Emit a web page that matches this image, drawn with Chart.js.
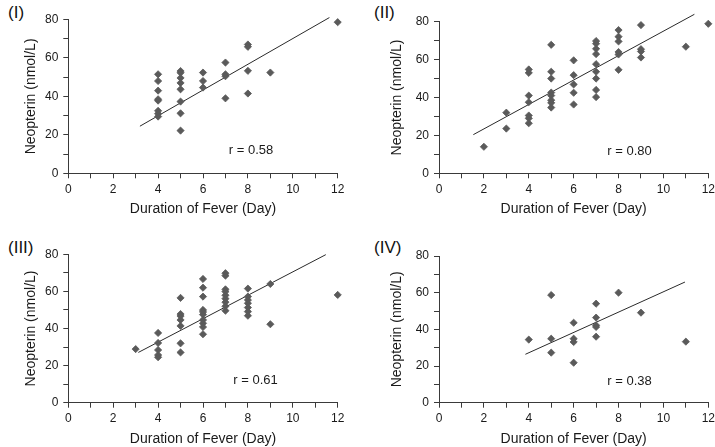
<!DOCTYPE html>
<html><head><meta charset="utf-8">
<script src="https://cdn.jsdelivr.net/npm/chart.js@4"></script>
<style>
html,body{margin:0;padding:0;background:#fff;}
body{width:715px;height:447px;position:relative;overflow:hidden;font-family:"Liberation Sans",Arial,Helvetica,sans-serif;}
canvas{position:absolute;}
.lbl{position:absolute;font-size:17px;color:#111;line-height:17px;white-space:nowrap;}
</style></head><body>
<div id="labels"></div>
<canvas id="c1" width="360" height="224" style="left:0;top:0"></canvas>
<canvas id="c2" width="355" height="224" style="left:360px;top:0"></canvas>
<canvas id="c3" width="360" height="223" style="left:0;top:224px"></canvas>
<canvas id="c4" width="355" height="223" style="left:360px;top:224px"></canvas>
<script>
// ---------- data ----------
const panelLabels = ['(I)', '(II)', '(III)', '(IV)'];
const xTitle = 'Duration of Fever (Day)';
const yTitle = 'Neopterin (nmol/L)';
const rTexts = ['r = 0.58', 'r = 0.80', 'r = 0.61', 'r = 0.38'];
const xTicks = [0, 2, 4, 6, 8, 10, 12];
const yTicks = [0, 20, 40, 60, 80];

const daysI = [4,4,4,4,4,4,4,4, 5,5,5,5,5,5,5,5, 6,6,6, 7,7,7,7, 8,8,8,8, 9, 12];
const neopterinI = [51.5,48,43,38.5,37.8,32.5,31,29.5, 53.2,52.3,49.6,47,43.7,37.3,31.2,22.2, 52.4,48,44.6, 57.6,51.5,50.5,39, 67,65.8,53.3,41.5, 52.4, 78.6];
const fitXI = [3.19, 11.63];
const fitYI = [24.5, 81.0];

const daysII = [2, 3,3, 4,4,4,4,4,4,4, 5,5,5,5,5,5,5,5, 6,6,6,6,6, 7,7,7,7,7,7,7,7,7, 8,8,8,8,8,8, 9,9,9,9, 11, 12];
const neopterinII = [14, 32,23.6, 54.8,53,41,37.5,30.5,29,26.4, 67.8,53.6,50,42.6,41,38.6,37.2,34.7, 59.6,51.8,46.9,42.5,36.3, 69.8,68.4,65.7,62.9,57.6,53.6,50,44,40.2, 75.6,72.1,69.6,64,62.7,54.6, 78.2,65.5,64.3,61.1, 66.8, 78.9];
const fitXII = [1.53, 11.38];
const fitYII = [20.4, 83.9];

const daysIII = [3, 4,4,4,4,4, 5,5,5,5,5,5,5, 6,6,6,6,6,6,6,6,6,6, 7,7,7,7,7,7,7,7,7, 8,8,8,8,8,8,8, 9,9, 12];
const neopterinIII = [28.9, 37.6,32.2,28.4,25.7,24.5, 56.5,47.8,46.7,44.6,41.4,32,27.1, 66.7,62,57.2,50,48.9,47.5,44.6,42.8,40.8,36.9, 69.8,68.5,61.1,59.9,57.9,56.1,54.2,52,49.6, 61.5,57.2,55.4,53.6,51.3,49.1,46.9, 64,42.3, 58.1];
const fitXIII = [3.12, 11.47];
const fitYIII = [27.1, 79.8];

const daysIV = [4, 5,5,5, 6,6,6,6, 7,7,7,7,7, 8, 9, 11];
const neopterinIV = [34.4, 58.7,34.9,27.3, 43.6,34.9,33.1,21.8, 54,46.4,42.2,41.3,36, 60, 49.1, 33.3];
const fitXIV = [3.85, 10.96];
const fitYIV = [26.4, 65.8];

// ---------- layout (page pixels) ----------
const FONT = '"Liberation Sans", Arial, Helvetica, sans-serif';
const panels = [
  {id:'c1', box:{x:0,y:0,w:360,h:224}, area:{l:68.3,t:19.5,r:337.7,b:173.3}, yTitleX:31, xTitleY:209, label:{x:8,y:4}, rPos:{x:7.15,y:11.7},
   days:daysI, neo:neopterinI, fx:fitXI, fy:fitYI},
  {id:'c2', box:{x:360,y:0,w:355,h:224}, area:{l:439,t:21.7,r:708.3,b:173.3}, yTitleX:397, xTitleY:209, label:{x:374,y:4}, rPos:{x:7.5,y:11.4},
   days:daysII, neo:neopterinII, fx:fitXII, fy:fitYII},
  {id:'c3', box:{x:0,y:224,w:360,h:223}, area:{l:68.3,t:254.3,r:337.7,b:402.7}, yTitleX:31, xTitleY:439, label:{x:8,y:239}, rPos:{x:7.35,y:11.9},
   days:daysIII, neo:neopterinIII, fx:fitXIII, fy:fitYIII},
  {id:'c4', box:{x:360,y:224,w:355,h:223}, area:{l:439,t:256,r:708.3,b:402.7}, yTitleX:397, xTitleY:439, label:{x:374,y:239}, rPos:{x:7.5,y:11.8},
   days:daysIV, neo:neopterinIV, fx:fitXIV, fy:fitYIV}
];

const rLabelPlugin = {
  id: 'rLabel',
  afterDatasetsDraw(chart, args, opts) {
    const {ctx, scales} = chart;
    ctx.save();
    ctx.font = '13px ' + FONT;
    ctx.fillStyle = '#1a1a1a';
    ctx.textAlign = 'left';
    ctx.textBaseline = 'middle';
    ctx.fillText(opts.text, scales.x.getPixelForValue(opts.x), scales.y.getPixelForValue(opts.y));
    ctx.restore();
  }
};

const TITLE_FONT = {family: FONT, size: 14, lineHeight: 1};
const TICK_FONT = {family: FONT, size: 12};
const AXIS_COLOR = '#3a3a3a';
const TEXT_COLOR = '#1a1a1a';

panels.forEach((p, i) => {
  const lab = document.createElement('div');
  lab.className = 'lbl';
  lab.style.left = p.label.x + 'px';
  lab.style.top = p.label.y + 'px';
  lab.textContent = panelLabels[i];
  document.getElementById('labels').appendChild(lab);

  const yW = p.area.l - p.box.x;
  const xH = (p.box.y + p.box.h) - p.area.b;
  const padTop = p.area.t - p.box.y;
  const padRight = (p.box.x + p.box.w) - p.area.r;
  const yTitleOffset = p.yTitleX - p.box.x - TITLE_FONT.size / 2;
  const xTitleOffset = (p.box.y + p.box.h) - p.xTitleY - TITLE_FONT.size / 2;

  new Chart(document.getElementById(p.id), {
    data: {
      datasets: [
        {type: 'scatter', data: p.days.map((d, k) => ({x: d, y: p.neo[k]})), clip: false,
         pointStyle: 'rectRot', pointRadius: 3.6, pointHoverRadius: 3.6,
         backgroundColor: '#5a5a5a', borderColor: '#5a5a5a', borderWidth: 0.8},
        {type: 'line', data: p.fx.map((x, k) => ({x: x, y: p.fy[k]})), clip: false,
         borderColor: '#2a2a2a', borderWidth: 1, pointRadius: 0, fill: false, tension: 0}
      ]
    },
    options: {
      responsive: false, animation: false, devicePixelRatio: 1,
      layout: {padding: {top: padTop, right: padRight, left: 0, bottom: 0}},
      plugins: {legend: {display: false}, tooltip: {enabled: false},
                rLabel: {text: rTexts[i], x: p.rPos.x, y: p.rPos.y}},
      scales: {
        x: {type: 'linear', min: 0, max: 12,
            ticks: {stepSize: 1, autoSkip: false, maxRotation: 0, padding: 4, font: TICK_FONT, color: TEXT_COLOR,
                    callback: v => xTicks.includes(v) ? String(v) : ''},
            grid: {drawOnChartArea: false, drawTicks: true, tickLength: 5, color: AXIS_COLOR, lineWidth: 1},
            border: {display: true, color: AXIS_COLOR, width: 1},
            title: {display: true, text: xTitle, font: TITLE_FONT, color: TEXT_COLOR, padding: {top: 0, bottom: xTitleOffset}},
            afterFit: s => { s.height = xH; s.paddingLeft = 0; s.paddingRight = 0; }},
        y: {type: 'linear', min: 0, max: 80,
            ticks: {stepSize: 10, autoSkip: false, padding: 5, font: TICK_FONT, color: TEXT_COLOR,
                    callback: v => yTicks.includes(v) ? String(v) : ''},
            grid: {drawOnChartArea: false, drawTicks: true, tickLength: 5, color: AXIS_COLOR, lineWidth: 1},
            border: {display: true, color: AXIS_COLOR, width: 1},
            title: {display: true, text: yTitle, font: TITLE_FONT, color: TEXT_COLOR, padding: {top: yTitleOffset, bottom: 0}},
            afterFit: s => { s.width = yW; s.paddingTop = 0; s.paddingBottom = 0; }}
      }
    },
    plugins: [rLabelPlugin]
  });
});
</script>
</body></html>
